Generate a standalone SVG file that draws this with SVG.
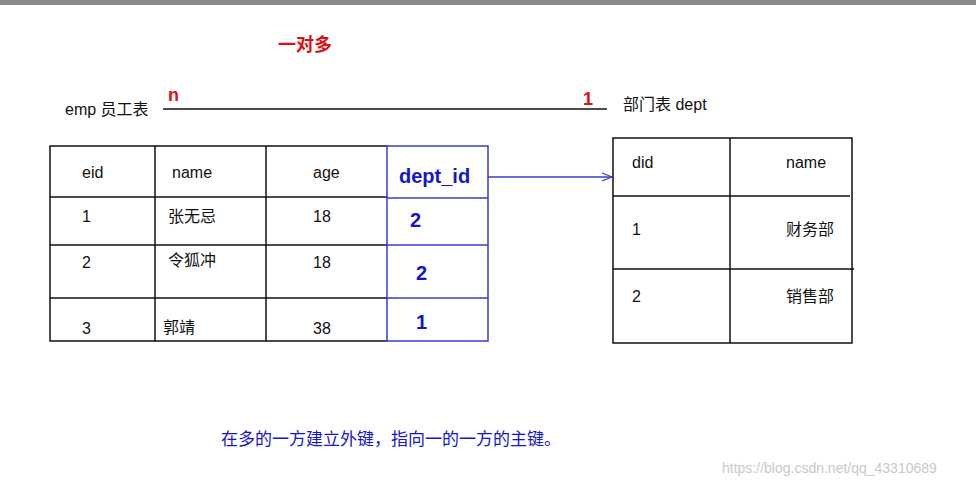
<svg xmlns="http://www.w3.org/2000/svg" width="976" height="485" viewBox="0 0 976 485">
<style>
text{font-family:"Liberation Sans","Noto Sans CJK SC",sans-serif;font-size:16px;fill:#111}
.b{stroke:#111;stroke-width:1.5;fill:none}
.u{stroke:#3a3acc;stroke-width:1.5;fill:none}
.bt{fill:#1515cc;font-weight:bold;font-size:20px}
.r{fill:#e01010;font-weight:bold;font-size:18px}
</style>
<defs><marker id="a" markerWidth="12" markerHeight="10" refX="11" refY="5" orient="auto" markerUnits="userSpaceOnUse"><path d="M1,1 L11,5 L1,9" fill="none" stroke="#3a3acc" stroke-width="1.2"/></marker></defs>
<rect width="976" height="485" fill="#fff"/>
<rect width="976" height="5" fill="#8a8a8a"/>
<text x="278" y="51" class="r">一对多</text>
<text x="65" y="115">emp 员工表</text>
<text x="168" y="101" class="r">n</text>
<text x="583" y="105" class="r">1</text>
<text x="623" y="110">部门表  dept</text>
<g id="connectors">
<line x1="163" y1="109" x2="607" y2="109" stroke="#111" stroke-width="1.3"/>
<line x1="488" y1="177" x2="612" y2="177" stroke="#3a3acc" stroke-width="1.3" marker-end="url(#a)"/>
</g>
<g id="emp">
<path class="b" d="M387,146 H50 V341 H387 M50,197 H387 M50,245 H387 M50,298 H387 M155,146 V341 M266,146 V341"/>
<path class="u" d="M387,146 H488 V341 H387 Z M387,198 H488 M387,245 H488 M387,298 H488"/>
<text x="82" y="178">eid</text><text x="172" y="178">name</text><text x="313" y="178">age</text>
<text x="399" y="183" class="bt">dept_id</text>
<text x="82" y="222">1</text><text x="168" y="222">张无忌</text><text x="313" y="222">18</text><text x="410" y="227" class="bt">2</text>
<text x="82" y="268">2</text><text x="168" y="266">令狐冲</text><text x="313" y="268">18</text><text x="416" y="280" class="bt">2</text>
<text x="82" y="334">3</text><text x="163" y="333">郭靖</text><text x="313" y="334">38</text><text x="416" y="329" class="bt">1</text>
</g>
<g id="dept">
<path class="b" d="M613,138 H852 V343 H613 Z M613,196 H850 M613,269 H854 M730,138 V343"/>
<text x="632" y="168">did</text><text x="786" y="168">name</text>
<text x="632" y="235">1</text><text x="786" y="235">财务部</text>
<text x="632" y="302">2</text><text x="786" y="302">销售部</text>
</g>
<text x="221" y="445" style="fill:#1515cc;font-size:17px">在多的一方建立外键，指向一的一方的主键。</text>
<text x="722" y="473" style="fill:#c8c8c8;font-size:14px">https://blog.csdn.net/qq_43310689</text>
</svg>
